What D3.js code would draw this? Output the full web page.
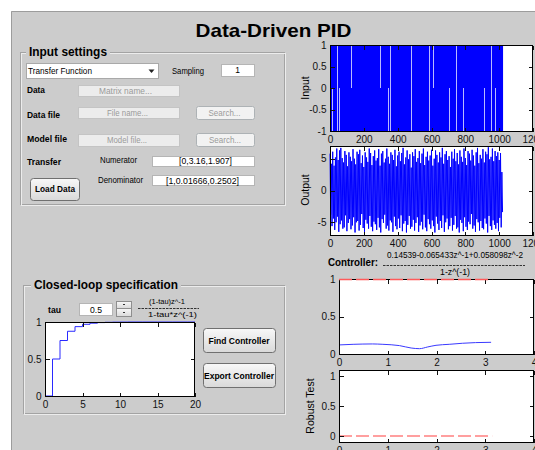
<!DOCTYPE html>
<html>
<head>
<meta charset="utf-8">
<script src="https://cdn.jsdelivr.net/npm/d3@7"></script>
<style>
  html, body { margin: 0; padding: 0; background: #fff; overflow: hidden; }
  svg { display: block; font-family: "Liberation Sans", Arial, Helvetica, sans-serif; }
</style>
</head>
<body>
<script>
// ---------- data ----------
// excitation signal (PRBS between -1 and 1, 1023 samples)
const inputSpan = [0, 1023];
const inputLevels = [-1, 1];
// light streaks where the PRBS holds a level: [sample, from, to]
const inputStreaks = [[14, 0, -1], [43, 1, -1], [55, 0, -1], [123, 1, 0], [293, 1, 0], [340, 0, -1],
  [356, 1, -1], [480, 1, -1], [583, 1, -1], [609, 1, 0], [704, 0, -1], [743, 1, -1],
  [785, 0, -1], [911, 0, -1], [951, 1, -1], [975, 0, -1]];

// measured output, upper / lower envelope per block of 8 samples
const outputBin = 8;
const outputMax = [5.8, 4.2, 6.1, 3.9, 5.2, 6.6, 4.8, 6.3, 6.7, 5.1, 4.4, 6.2, 5.6, 3.8, 6.0, 5.3,
  4.6, 6.5, 5.0, 4.1, 6.1, 5.7, 6.4, 4.3, 5.5, 3.7, 6.0, 5.2, 4.5, 6.6, 5.9, 4.0,
  5.4, 6.3, 4.7, 5.1, 6.5, 3.9, 5.8, 6.2, 4.4, 5.0, 6.6, 5.3, 4.2, 6.0, 5.6, 4.8,
  6.4, 3.8, 5.5, 6.1, 4.6, 5.9, 6.7, 4.1, 5.2, 6.3, 4.9, 5.7, 3.6, 6.0, 5.4, 6.5,
  4.5, 5.1, 6.2, 4.3, 5.8, 6.6, 4.0, 5.3, 6.1, 4.7, 5.5, 6.4, 3.9, 5.0, 6.3, 5.6,
  4.4, 6.0, 5.2, 6.7, 4.2, 5.7, 6.2, 4.8, 5.4, 3.7, 6.1, 5.0, 6.5, 4.6, 5.9, 4.1,
  6.3, 5.3, 4.5, 6.6, 5.1, 4.0, 6.2, 5.8, 4.7, 6.4, 5.5, 3.9, 6.0, 6.7, 4.3, 5.6,
  5.0, 6.5, 4.4, 6.1, 5.7, 6.8, 4.9, 5.3, 6.6, 4.6, 6.2, 5.4, 6.0, 4.8, 5.9, 2.9];
const outputMin = [-3.8, -5.6, -4.4, -6.2, -5.0, -4.1, -6.5, -5.3, -4.7, -6.0, -5.8, -3.9, -6.4, -5.1, -4.5, -6.1,
  -5.5, -4.2, -6.6, -5.0, -4.8, -6.3, -5.4, -3.7, -5.9, -6.5, -4.6, -5.2, -6.0, -4.0, -5.7, -6.4,
  -4.9, -5.3, -6.2, -4.3, -5.8, -6.6, -4.5, -5.1, -3.8, -6.0, -5.5, -6.3, -4.7, -5.0, -6.5, -4.1,
  -5.6, -6.1, -4.4, -5.9, -3.9, -6.4, -5.2, -4.8, -6.6, -5.4, -4.0, -6.0, -5.7, -4.6, -6.3, -5.1,
  -4.2, -6.5, -5.5, -4.9, -6.1, -3.8, -5.8, -6.4, -4.5, -5.3, -6.0, -4.7, -5.6, -6.6, -4.1, -5.2,
  -6.2, -4.8, -5.9, -3.9, -6.5, -5.0, -4.4, -6.1, -5.6, -4.3, -6.3, -5.4, -4.0, -6.0, -5.8, -6.6,
  -4.6, -5.1, -6.4, -4.2, -5.7, -6.2, -4.9, -5.3, -3.7, -6.0, -5.5, -6.5, -4.5, -5.0, -6.3, -4.8,
  -5.9, -6.1, -4.4, -5.2, -6.6, -4.0, -5.6, -6.2, -4.7, -5.4, -6.0, -5.1, -6.4, -4.3, -5.8, -3.4];

// controller plot (frequency 0..pi)
const freq    = [0, 0.29, 0.69, 0.9, 1.24, 1.48, 1.65, 1.82, 1.99, 2.26, 2.53, 2.8, 3.12];
const ctrlMag = [0.121, 0.129, 0.134, 0.129, 0.112, 0.080, 0.071, 0.094, 0.116, 0.129, 0.143, 0.152, 0.156];
const freqEnd = 3.1416;
const magRef = 1;
const robustRef = 0;

// closed-loop step response
const stepTime = [0, 1, 2, 3, 4, 5, 6, 7, 8, 9, 10, 11, 12, 13, 14, 15, 16, 17, 18, 19, 20];
const stepResp = [0, 0.5, 0.75, 0.875, 0.9375, 0.969, 0.984, 0.992, 0.996, 0.998, 0.999, 1, 1, 1, 1, 1, 1, 1, 1, 1, 1];

// tick labels
const sampleTicks = [0, 200, 400, 600, 800, 1000, 1200];
const inputTicks = [-1, -0.5, 0, 0.5, 1];
const outputTicks = [-5, 0, 5];
const freqTicks = [0, 1, 2, 3, 4];
const unitTicks = [0, 0.5, 1];
const stepTicks = [0, 5, 10, 15, 20];

// ---------- figure ----------
const W = 535, H = 450;
const svg = d3.select("body").append("svg").attr("width", W).attr("height", H);

const grad = svg.append("defs").append("linearGradient")
  .attr("id", "btn").attr("x1", 0).attr("y1", 0).attr("x2", 0).attr("y2", 1);
grad.append("stop").attr("offset", "0%").attr("stop-color", "#f8f8f8");
grad.append("stop").attr("offset", "100%").attr("stop-color", "#d9d9d9");

svg.append("rect").attr("x", 11).attr("y", 11).attr("width", W - 11).attr("height", H - 11).attr("fill", "#cccccc");
svg.append("path").attr("d", "M11.5,450V11.5H535").attr("fill", "none").attr("stroke", "#9c9c9c");

// text helper, cy = vertical centre of the glyphs
function label(t, x, cy, o = {}) {
  const s = o.size || 8.5;
  const el = svg.append("text")
    .attr("x", x).attr("y", cy + s * 0.36)
    .attr("font-size", s)
    .attr("font-weight", o.bold ? "bold" : "normal")
    .attr("fill", o.fill || "#000")
    .attr("text-anchor", o.anchor || "start")
    .text(t);
  if (o.len) el.attr("textLength", o.len).attr("lengthAdjust", "spacingAndGlyphs");
  return el;
}

function box(x, y, w, h, fill, stroke) {
  return svg.append("rect").attr("x", x + 0.5).attr("y", y + 0.5).attr("width", w).attr("height", h)
    .attr("fill", fill).attr("stroke", stroke);
}

function button(x, y, w, h) {
  return box(x, y, w, h, "url(#btn)", "#707070").attr("rx", 3);
}

function panel(x, y, w, h, title, tx, tlen) {
  box(x, y, w, h, "none", "#a3a3a3");
  box(x + 1, y + 1, w, h, "none", "#ececec");
  svg.append("rect").attr("x", tx - 3).attr("y", y - 7).attr("width", tlen + 6).attr("height", 14).attr("fill", "#cccccc");
  svg.append("text").attr("x", tx).attr("y", y + 3.5).attr("font-size", 13).attr("font-weight", "bold")
    .attr("textLength", tlen).attr("lengthAdjust", "spacingAndGlyphs").text(title);
}

// title
label("Data-Driven PID", 273.5, 30, { size: 19, bold: true, anchor: "middle", len: 156 });

// ---------- input settings panel ----------
panel(20, 52, 264, 152, "Input settings", 29, 78);

box(26, 63, 132, 15, "#fff", "#a9a9a9");
label("Transfer Function", 28, 70.5, { len: 64 });
svg.append("path").attr("d", "M148.5,69.5h6l-3,3.5z").attr("fill", "#222");
label("Sampling", 172, 70.5, { len: 32 });
box(221, 64, 33, 12, "#fff", "#b5b5b5");
label("1", 237.5, 70, { anchor: "middle" });

label("Data", 27, 90, { bold: true, len: 18 });
box(78, 85, 101, 11, "#ececec", "#c4c4c4");
label("Matrix name...", 125.5, 90.5, { anchor: "middle", fill: "#9a9a9a", len: 53 });

label("Data file", 27, 115, { bold: true, len: 33 });
box(78, 107, 101, 11, "#ececec", "#c4c4c4");
label("File name...", 127.5, 112.5, { anchor: "middle", fill: "#9a9a9a", len: 41 });
box(196, 106, 58, 13, "#f2f2f2", "#adb2b5").attr("rx", 2);
label("Search...", 224.5, 112.5, { anchor: "middle", fill: "#9a9a9a", len: 32 });

label("Model file", 27, 139, { bold: true, len: 40 });
box(78, 134, 101, 12, "#ececec", "#c4c4c4");
label("Model file...", 127, 139.7, { anchor: "middle", fill: "#9a9a9a", len: 40 });
box(196, 133, 58, 13, "#f2f2f2", "#adb2b5").attr("rx", 2);
label("Search...", 225, 139.7, { anchor: "middle", fill: "#9a9a9a", len: 32 });

label("Transfer", 27, 162, { bold: true, len: 34 });
label("Numerator", 100, 160, { len: 37 });
box(152, 156, 102, 10, "#fff", "#b5b5b5");
label("[0,3.16,1.907]", 205.5, 161, { anchor: "middle", len: 53 });
label("Denominator", 98, 180, { len: 45 });
box(152, 175, 102, 10, "#fff", "#b5b5b5");
label("[1,0.01666,0.2502]", 202.5, 180.5, { anchor: "middle", len: 73 });
button(30, 178, 49, 22);
label("Load Data", 55, 189, { anchor: "middle", bold: true, len: 40 });

// ---------- closed-loop panel ----------
panel(23, 285, 261, 128, "Closed-loop specification", 34, 144);
label("tau", 48, 310, { bold: true, len: 13 });
box(79, 303, 33, 12, "#fff", "#b5b5b5");
label("0.5", 96, 309.5, { anchor: "middle", len: 12 });
box(116, 301, 15, 7, "url(#btn)", "#8e8e8e");
box(116, 308, 15, 8, "url(#btn)", "#8e8e8e");
svg.append("path").attr("d", "M123,304.5h2M123,312.5h2").attr("stroke", "#333");
label("(1-tau)z^-1", 167, 301, { anchor: "middle", size: 8, len: 36 });
svg.append("line").attr("x1", 138).attr("x2", 199).attr("y1", 308.5).attr("y2", 308.5)
  .attr("stroke", "#333").attr("stroke-dasharray", "2.5,1");
label("1-tau*z^(-1)", 172.5, 314.5, { anchor: "middle", size: 8, len: 49 });
button(203, 328, 72, 24);
label("Find Controller", 239, 340.5, { anchor: "middle", bold: true, len: 61 });
button(203, 363, 72, 24);
label("Export Controller", 239, 375.5, { anchor: "middle", bold: true, len: 70 });

// ---------- axes helper ----------
function makeAxes(b, xd, yd) {
  const x = d3.scaleLinear().domain(xd).range([b.x, b.x + b.w]);
  const y = d3.scaleLinear().domain(yd).range([b.y + b.h, b.y]);
  const g = svg.append("g");
  g.append("rect").attr("x", b.x).attr("y", b.y).attr("width", b.w).attr("height", b.h).attr("fill", "#fff");
  return { x, y, g, b };
}

function styleAxis(sel) {
  sel.select(".domain").remove();
  sel.attr("font-family", null).attr("font-size", 10).attr("color", "#111");
  sel.selectAll("line").attr("shape-rendering", "crispEdges");
}

function frame(p, xt, yt, yFmt) {
  const { x, y, g, b } = p;
  const fmt = yFmt || (d => d);
  g.append("g").attr("transform", `translate(0,${b.y + b.h + 0.5})`)
    .call(d3.axisBottom(x).tickValues(xt).tickSize(-4).tickPadding(4).tickFormat(d => d)).call(styleAxis);
  g.append("g").attr("transform", `translate(0,${b.y + 0.5})`)
    .call(d3.axisTop(x).tickValues(xt).tickSize(-4).tickFormat("")).call(styleAxis);
  g.append("g").attr("transform", `translate(${b.x + 0.5},0)`)
    .call(d3.axisLeft(y).tickValues(yt).tickSize(-4).tickPadding(4).tickFormat(fmt)).call(styleAxis);
  g.append("g").attr("transform", `translate(${b.x + b.w - 0.5},0)`)
    .call(d3.axisRight(y).tickValues(yt).tickSize(-4).tickFormat("")).call(styleAxis);
  g.append("rect").attr("x", b.x + 0.5).attr("y", b.y + 0.5).attr("width", b.w - 1).attr("height", b.h)
    .attr("fill", "none").attr("stroke", "#000").attr("shape-rendering", "crispEdges");
}

function yLabel(t, x, cy) {
  svg.append("text").attr("transform", `translate(${x},${cy}) rotate(-90)`)
    .attr("text-anchor", "middle").attr("font-size", 10.5).text(t);
}

// ---------- input plot ----------
const pIn = makeAxes({ x: 330, y: 45, w: 203, h: 86 }, [0, 1200], [-1, 1]);
pIn.g.append("rect")
  .attr("x", pIn.x(inputSpan[0])).attr("width", pIn.x(inputSpan[1]) - pIn.x(inputSpan[0]))
  .attr("y", pIn.y(inputLevels[1])).attr("height", pIn.y(inputLevels[0]) - pIn.y(inputLevels[1]))
  .attr("fill", "#0000ff");
pIn.g.selectAll("line.streak").data(inputStreaks).join("line")
  .attr("class", "streak")
  .attr("x1", d => Math.round(pIn.x(d[0])) + 0.5).attr("x2", d => Math.round(pIn.x(d[0])) + 0.5)
  .attr("y1", d => pIn.y(d[1])).attr("y2", d => pIn.y(d[2]))
  .attr("stroke", "#b9b9ff").attr("stroke-width", 1);
frame(pIn, sampleTicks, inputTicks);
yLabel("Input", 309, 88);

// ---------- output plot ----------
const pOut = makeAxes({ x: 330, y: 146, w: 203, h: 89 }, [0, 1200], [-7, 7]);
const outPts = [];
outputMax.forEach((mx, i) => {
  outPts.push([Math.min(i * outputBin, inputSpan[1]), mx]);
  outPts.push([Math.min(i * outputBin + outputBin / 2, inputSpan[1]), outputMin[i]]);
});
pOut.g.append("path").datum(outPts)
  .attr("d", d3.line().x(d => pOut.x(d[0])).y(d => pOut.y(d[1])))
  .attr("fill", "none").attr("stroke", "#0000ff").attr("stroke-width", 1);
frame(pOut, sampleTicks, outputTicks);
yLabel("Output", 309, 190);

// ---------- controller text ----------
label("Controller:", 328, 262, { bold: true, size: 10, len: 50 });
label("0.14539-0.065433z^-1+0.058098z^-2", 455, 255, { anchor: "middle", size: 8.5, len: 136 });
svg.append("line").attr("x1", 383).attr("x2", 525).attr("y1", 265.5).attr("y2", 265.5)
  .attr("stroke", "#333").attr("stroke-dasharray", "2.5,1");
label("1-z^(-1)", 455, 271.5, { anchor: "middle", size: 8.5, len: 30 });

// ---------- controller magnitude plot ----------
const pMag = makeAxes({ x: 339, y: 279, w: 195, h: 75 }, [0, 4], [0, 1]);
pMag.g.append("path").datum(freq.map((f, i) => [f, ctrlMag[i]]))
  .attr("d", d3.line().x(d => pMag.x(d[0])).y(d => pMag.y(d[1])).curve(d3.curveMonotoneX))
  .attr("fill", "none").attr("stroke", "#3a3aff").attr("stroke-width", 1);
frame(pMag, freqTicks, unitTicks);
pMag.g.append("line").attr("x1", pMag.x(0)).attr("x2", pMag.x(freqEnd))
  .attr("y1", pMag.y(magRef) + 0.5).attr("y2", pMag.y(magRef) + 0.5)
  .attr("stroke", "#ff5a5a").attr("stroke-width", 1.5).attr("stroke-dasharray", "13,4");

// ---------- robust test plot ----------
const pRob = makeAxes({ x: 339, y: 370, w: 195, h: 72 }, [0, 4], [-0.1, 1.1]);
pRob.g.append("line").attr("x1", pRob.x(0)).attr("x2", pRob.x(freqEnd))
  .attr("y1", pRob.y(robustRef)).attr("y2", pRob.y(robustRef))
  .attr("stroke", "#ff8080").attr("stroke-width", 1.5).attr("stroke-dasharray", "13,4");
frame(pRob, freqTicks, unitTicks);
yLabel("Robust Test", 314, 406);

// ---------- closed-loop step response ----------
const pStep = makeAxes({ x: 45, y: 322, w: 150, h: 74 }, [0, 20], [0, 1]);
pStep.g.append("path").datum(stepTime.map((t, i) => [t, stepResp[i]]))
  .attr("d", d3.line().x(d => pStep.x(d[0])).y(d => pStep.y(d[1])).curve(d3.curveStepAfter))
  .attr("fill", "none").attr("stroke", "#2a2aff").attr("stroke-width", 1);
frame(pStep, stepTicks, unitTicks);
</script>
</body>
</html>
